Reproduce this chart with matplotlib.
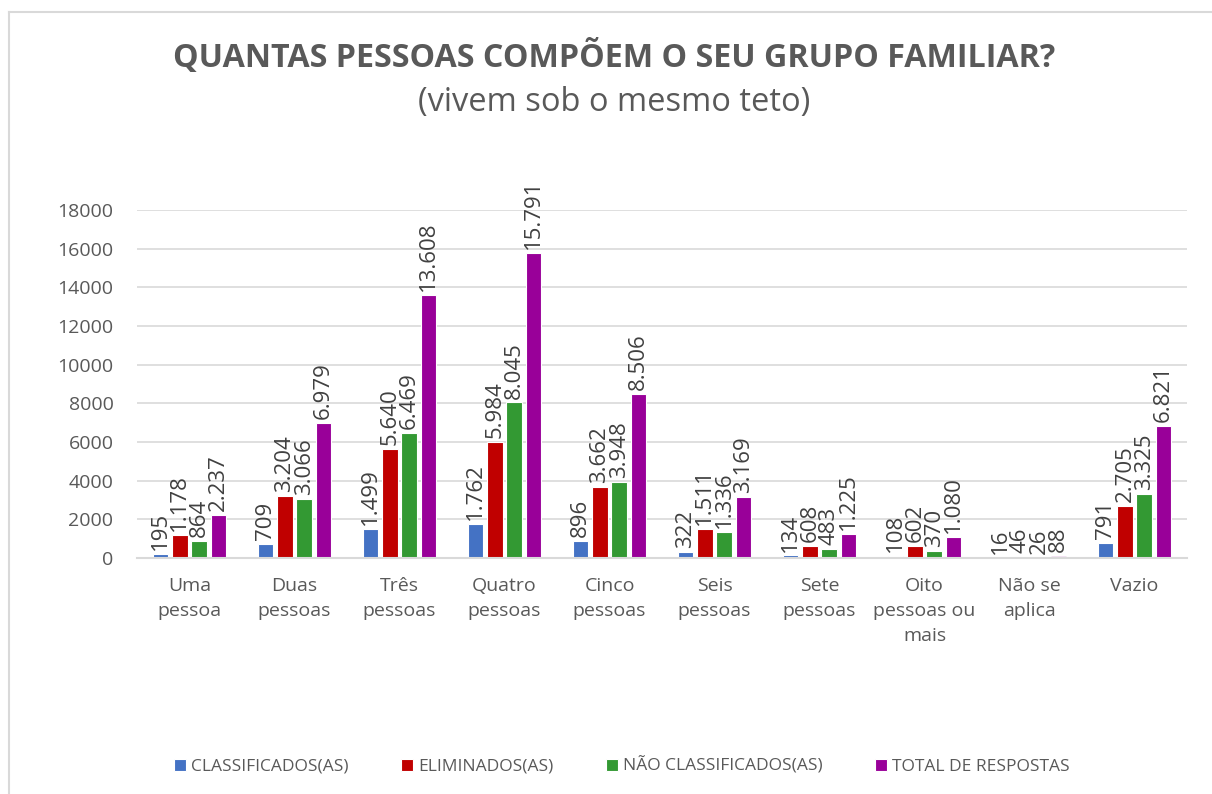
import matplotlib.pyplot as plt
import numpy as np

plt.rcParams['font.family'] = ['Open Sans', 'DejaVu Sans']

# categories and series values
categorias = ['Uma\npessoa', 'Duas\npessoas', 'Três\npessoas', 'Quatro\npessoas',
              'Cinco\npessoas', 'Seis\npessoas', 'Sete\npessoas',
              'Oito\npessoas ou\nmais', 'Não se\naplica', 'Vazio']
classificados = [195, 709, 1499, 1762, 896, 322, 134, 108, 16, 791]
eliminados = [1178, 3204, 5640, 5984, 3662, 1511, 608, 602, 46, 2705]
nao_classificados = [864, 3066, 6469, 8045, 3948, 1336, 483, 370, 26, 3325]
total = [2237, 6979, 13608, 15791, 8506, 3169, 1225, 1080, 88, 6821]

series = ['CLASSIFICADOS(AS)', 'ELIMINADOS(AS)', 'NÃO CLASSIFICADOS(AS)', 'TOTAL DE RESPOSTAS']
cores = ['#4472C4', '#C00000', '#339933', '#990099']
yticks = [0, 2000, 4000, 6000, 8000, 10000, 12000, 14000, 16000, 18000]

cinza = '#595959'

fig = plt.figure(figsize=(12.12, 7.94), dpi=100)
ax = fig.add_axes([137 / 1212, 1 - 558 / 794, (1187 - 137) / 1212, (558 - 210) / 794])

x = np.arange(len(categorias))
largura = 0.148
passo = 0.183
dados = [classificados, eliminados, nao_classificados, total]

def fmt(v):
    return f'{v:,}'.replace(',', '.')

for i, (vals, cor, nome) in enumerate(zip(dados, cores, series)):
    pos = x + (i - 1.5) * passo
    # "Não se aplica" bars are drawn faded in the original
    bars = ax.bar(pos, vals, width=largura, color=cor, edgecolor='white', linewidth=0.8,
                  label=nome, zorder=3)
    bars[8].set_alpha(0.35)
    for p, v in zip(pos, vals):
        ax.text(p, v + 200, fmt(v), rotation=90, ha='center', va='bottom',
                fontsize=16, color='#404040', zorder=4)

ax.set_xlim(-0.5, len(categorias) - 0.5)
ax.set_ylim(0, 18000)
ax.set_yticks(yticks)
ax.set_yticklabels([str(t) for t in yticks])
ax.set_xticks(x)
ax.set_xticklabels(categorias, linespacing=1.5)
ax.tick_params(axis='both', length=0, labelsize=14, colors=cinza)
ax.tick_params(axis='y', pad=17)
ax.tick_params(axis='x', pad=14)
ax.yaxis.grid(True, color='#D9D9D9', linewidth=1.2, zorder=0)
ax.set_axisbelow(True)
for s in ['top', 'right', 'left']:
    ax.spines[s].set_visible(False)
ax.spines['bottom'].set_color('#D9D9D9')
ax.spines['bottom'].set_linewidth(1.5)
ax.spines['bottom'].set_zorder(5)

fig.text(0.507, 1 - 58 / 794, 'QUANTAS PESSOAS COMPÕEM O SEU GRUPO FAMILIAR?',
         ha='center', va='center', fontsize=23.2, fontweight='bold', color=cinza)
fig.text(0.507, 1 - 102 / 794, '(vivem sob o mesmo teto)',
         ha='center', va='center', fontsize=23.5, color=cinza)

leg = fig.legend(loc='center', bbox_to_anchor=(0.513, 1 - 766 / 794), ncol=4,
                 frameon=False, fontsize=12.5, handlelength=0.7, handleheight=0.7,
                 handletextpad=0.3, columnspacing=3.0)
for t in leg.get_texts():
    t.set_color(cinza)

# chart area border (left and top edges visible)
fig.add_artist(plt.Line2D([9 / 1212, 9 / 1212], [0, 1 - 12 / 794], color='#D9D9D9',
                          linewidth=1.5, transform=fig.transFigure))
fig.add_artist(plt.Line2D([9 / 1212, 1], [1 - 12 / 794, 1 - 12 / 794], color='#D9D9D9',
                          linewidth=1.5, transform=fig.transFigure))

fig.savefig('out.png', dpi=100)
